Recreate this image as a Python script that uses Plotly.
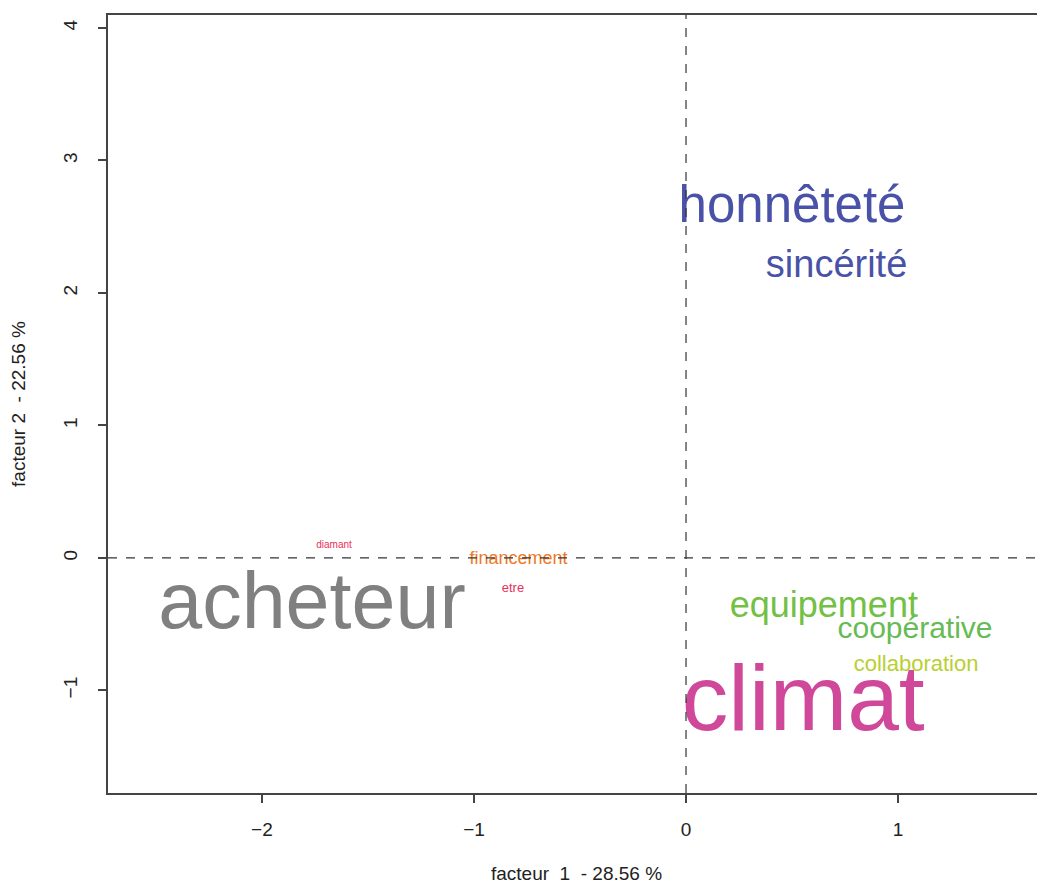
import plotly.graph_objects as go

words = ["honnêteté", "sincérité", "acheteur", "climat", "equipement",
         "coopérative", "collaboration", "financement", "diamant", "etre"]
fact1 = [0.50, 0.71, -1.764, 0.553, 0.65, 1.08, 1.085, -0.79, -1.66, -0.816]
fact2 = [2.63, 2.19, -0.38, -1.12, -0.38, -0.55, -0.81, -0.01, 0.095, -0.23]
sizes = [51, 38, 79, 93, 36, 30, 22, 18, 10, 13]
colors = ["#4a52a8", "#4a52a8", "#808080", "#d0489a", "#72c044",
          "#66bb55", "#b8d030", "#f07828", "#e8305a", "#e8305a"]

x_ticks = [-2, -1, 0, 1]
y_ticks = [-1, 0, 1, 2, 3, 4]

fig = go.Figure()
fig.add_trace(go.Scatter(
    x=fact1, y=fact2, mode="text", text=words,
    textposition="middle center",
    textfont=dict(family="Liberation Sans, Arial", size=sizes, color=colors),
    hoverinfo="skip", showlegend=False))

fig.add_shape(type="line", xref="x", yref="paper", x0=0, x1=0, y0=0, y1=1,
              line=dict(color="#333333", width=1.2, dash="dash"))
fig.add_shape(type="line", xref="paper", yref="y", x0=0, x1=1, y0=0, y1=0,
              line=dict(color="#333333", width=1.2, dash="dash"))

font = dict(family="Liberation Sans, Arial", size=19, color="#222222")
fig.update_layout(
    width=1037, height=876,
    margin=dict(l=100, r=0, t=7, b=91),
    paper_bgcolor="white", plot_bgcolor="white",
    font=font,
    xaxis=dict(range=[-2.726, 1.693], tickvals=x_ticks, showgrid=False, zeroline=False,
               showline=True, mirror=True, linecolor="#444444", linewidth=1.5,
               ticks="outside", ticklen=8, tickcolor="#444444", tickwidth=1.5,
               ticklabelstandoff=10, automargin=False,
               title=dict(text="facteur  1  - 28.56 %", standoff=33, font=font)),
    yaxis=dict(range=[-1.774, 4.098], tickvals=y_ticks, showgrid=False, zeroline=False,
               showline=True, linecolor="#444444", linewidth=1.5,
               ticks="outside", ticklen=8, tickcolor="#444444", tickwidth=1.5,
               tickangle=-90, ticklabelstandoff=14, automargin=False,
               title=dict(text="facteur 2  - 22.56 %", standoff=30, font=font)),
)

fig.write_html("out.html")
